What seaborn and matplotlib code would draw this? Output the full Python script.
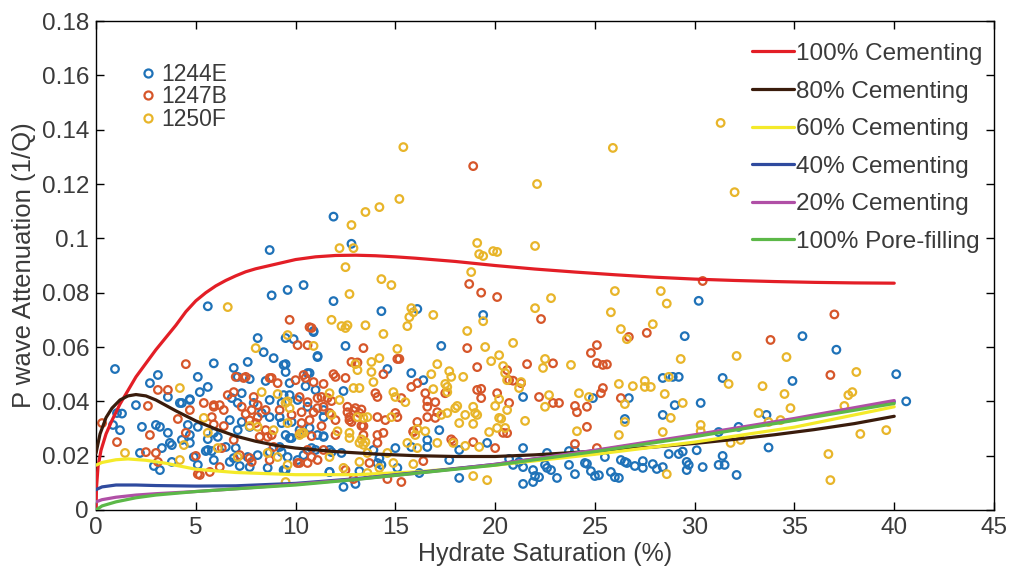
import matplotlib

matplotlib.use("Agg")
import matplotlib.pyplot as plt
import numpy as np
import pandas as pd
import seaborn as sns
from matplotlib.ticker import FuncFormatter

# hydrate saturation (%) vs P wave attenuation (1/Q)
site_1244e = [
    (30.2, 0.077), (29.5, 0.064), (35.4, 0.064), (37.1, 0.059), (40.1, 0.050), (40.6, 0.040),
    (34.9, 0.0475), (31.4, 0.0486), (30.3, 0.0394), (29.0, 0.0386), (33.6, 0.035), (32.2, 0.0306),
    (28.4, 0.035), (28.4, 0.0486), (28.9, 0.049), (29.2, 0.049), (33.7, 0.023), (30.1, 0.022),
    (28.7, 0.0206), (29.2, 0.0206), (29.4, 0.0215), (29.6, 0.0177), (29.7, 0.0166), (29.6, 0.0147),
    (30.4, 0.0158), (31.2, 0.0166), (31.5, 0.0166), (31.4, 0.0199), (32.1, 0.0129), (28.4, 0.0158),
    (31.2, 0.0287),
    (19.4, 0.0718), (21.4, 0.0416), (26.7, 0.0412), (24.9, 0.0412), (26.5, 0.0335), (19.6, 0.0247),
    (21.4, 0.0228), (20.7, 0.0188), (21.2, 0.0177), (20.9, 0.0166), (21.4, 0.0158), (21.9, 0.0147),
    (22.0, 0.0125), (22.2, 0.0121), (21.9, 0.0103), (21.4, 0.0096), (22.5, 0.0166), (22.6, 0.0155),
    (22.8, 0.0147), (23.1, 0.0118), (22.6, 0.021), (23.7, 0.0166), (24.0, 0.0132), (24.5, 0.0173),
    (24.8, 0.0143), (25.0, 0.0125), (25.2, 0.0128), (25.8, 0.014), (26.0, 0.0121), (26.2, 0.0118),
    (25.5, 0.0195), (26.3, 0.0184), (26.5, 0.0177), (26.6, 0.0173), (27.0, 0.0162), (27.4, 0.018),
    (27.9, 0.0169), (28.1, 0.0151), (27.4, 0.0155), (24.6, 0.017), (23.7, 0.0217), (24.0, 0.0217),
    (10.4, 0.0828), (11.9, 0.0769), (14.3, 0.0732), (16.1, 0.074), (10.9, 0.0655), (9.5, 0.0633),
    (9.9, 0.0629), (12.5, 0.0604), (11.1, 0.0563), (17.3, 0.0604), (9.5, 0.0537), (9.5, 0.0508),
    (10.6, 0.0504), (9.7, 0.0467), (10.5, 0.0456), (11.0, 0.0442), (12.4, 0.0438), (15.8, 0.0504),
    (16.4, 0.0478), (14.6, 0.0519), (9.4, 0.0423), (9.7, 0.0423), (10.1, 0.0405), (10.6, 0.038),
    (11.4, 0.0342), (9.3, 0.032), (9.7, 0.0265), (9.3, 0.0213), (9.5, 0.0147), (10.8, 0.0228),
    (11.4, 0.0269), (11.7, 0.014), (12.4, 0.0085), (13.0, 0.0096), (13.2, 0.0143), (14.1, 0.0173),
    (14.3, 0.0166), (14.2, 0.0191), (15.0, 0.0228), (15.1, 0.0155), (16.2, 0.0136), (15.8, 0.0232),
    (16.6, 0.0232), (17.2, 0.0294), (17.7, 0.0184), (18.2, 0.0118), (18.2, 0.0221), (16.6, 0.0258),
    (13.9, 0.0221), (11.7, 0.0221), (12.3, 0.021),
    (10.9, 0.0659), (5.9, 0.054), (8.4, 0.0581), (7.6, 0.0545), (6.9, 0.0523), (8.9, 0.0559),
    (10.7, 0.0504), (11.1, 0.0567), (5.1, 0.049), (5.6, 0.0453), (5.2, 0.0434), (7.1, 0.049),
    (7.7, 0.0482), (8.5, 0.0475), (4.3, 0.0394), (4.7, 0.0405), (6.8, 0.0412), (7.3, 0.043),
    (7.1, 0.0394), (7.9, 0.0394), (8.7, 0.0405), (9.3, 0.0394), (4.6, 0.0313), (5.1, 0.0306),
    (5.9, 0.0284), (8.3, 0.0357), (8.7, 0.0342), (9.2, 0.0342), (7.3, 0.0324), (7.1, 0.0294),
    (7.7, 0.0306), (6.7, 0.0331), (9.8, 0.0324), (10.2, 0.0294), (9.8, 0.0265), (9.5, 0.0276),
    (10.7, 0.0302), (11.4, 0.0368), (11.1, 0.0276), (11.4, 0.0272), (3.8, 0.0239), (4.7, 0.0247),
    (4.9, 0.0195), (5.6, 0.0221), (5.1, 0.0166), (5.9, 0.0184), (6.5, 0.0232), (7.0, 0.0228),
    (6.9, 0.0191), (6.7, 0.0177), (7.6, 0.0195), (8.1, 0.0202), (7.2, 0.0162), (7.7, 0.0158),
    (8.7, 0.0213), (9.2, 0.0232), (9.6, 0.0195), (9.4, 0.0147), (10.1, 0.0184), (10.4, 0.0202),
    (11.0, 0.0221), (11.8, 0.0213), (11.7, 0.014), (8.6, 0.0155), (6.1, 0.0269), (5.6, 0.0261),
    (0.95, 0.0519), (1.05, 0.0357), (1.3, 0.0355), (0.85, 0.0313), (1.2, 0.0294), (2.0, 0.0386),
    (2.3, 0.0306), (2.7, 0.0467), (3.1, 0.0497), (3.0, 0.0313), (3.2, 0.0306), (3.6, 0.0284),
    (2.2, 0.021), (2.9, 0.0162), (3.2, 0.0147), (3.3, 0.0228), (3.7, 0.0247), (3.8, 0.0177),
    (3.6, 0.0416), (4.2, 0.0394), (4.7, 0.0408), (4.3, 0.0258), (4.7, 0.0276), (5.5, 0.0217),
    (5.8, 0.0217), (8.1, 0.0633), (9.4, 0.0534),
    (8.7, 0.0957), (11.9, 0.108), (12.8, 0.098), (9.6, 0.081), (8.8, 0.079), (5.6, 0.075),
]

site_1247b = [
    (37.0, 0.072), (33.8, 0.0626), (36.8, 0.0497), (30.4, 0.0843),
    (19.3, 0.080), (20.1, 0.0784), (22.3, 0.0703), (27.6, 0.0652), (26.7, 0.0637), (25.1, 0.0607),
    (24.8, 0.0578), (25.1, 0.0541), (25.4, 0.0534), (25.6, 0.0536), (21.6, 0.0537), (22.9, 0.054),
    (19.1, 0.0526), (20.6, 0.0515), (20.7, 0.0478), (20.9, 0.0476), (21.3, 0.0467), (19.1, 0.0442),
    (19.3, 0.0446), (20.1, 0.043), (19.3, 0.0412), (25.4, 0.0449), (25.3, 0.043), (26.3, 0.0412),
    (22.2, 0.0416), (22.9, 0.0394), (23.2, 0.0394), (20.7, 0.0394), (24.0, 0.0383), (24.1, 0.036),
    (24.6, 0.038), (24.6, 0.0306), (20.4, 0.0284), (20.6, 0.0283), (24.0, 0.0243), (25.1, 0.0228),
    (20.0, 0.0228), (18.9, 0.025),
    (18.7, 0.0832), (9.7, 0.070), (10.8, 0.067), (10.1, 0.0607), (10.6, 0.0607), (13.4, 0.0596),
    (15.1, 0.0556), (15.2, 0.0556), (18.6, 0.0596), (12.8, 0.0545), (13.1, 0.0543), (11.9, 0.050),
    (12.0, 0.049), (12.5, 0.0486), (10.0, 0.0478), (10.5, 0.0486), (10.9, 0.0471), (11.4, 0.0464),
    (14.4, 0.050), (15.8, 0.0453), (16.1, 0.0467), (16.5, 0.043), (17.5, 0.043), (14.0, 0.043),
    (14.1, 0.0416), (15.3, 0.0412), (16.6, 0.0401), (17.0, 0.0397), (16.6, 0.038), (17.1, 0.036),
    (17.0, 0.0339), (16.6, 0.0342), (16.1, 0.0324), (15.9, 0.0287), (10.2, 0.0416), (10.6, 0.0397),
    (10.9, 0.036), (11.3, 0.0416), (11.4, 0.038), (11.8, 0.0401), (12.6, 0.036), (12.7, 0.0342),
    (12.8, 0.0324), (13.2, 0.0357), (13.4, 0.0309), (14.1, 0.0342), (14.5, 0.0331), (15.0, 0.0357),
    (15.1, 0.0342), (10.3, 0.032), (10.2, 0.028), (10.8, 0.0272), (11.3, 0.0309), (12.0, 0.0276),
    (11.4, 0.0221), (10.6, 0.0221), (11.1, 0.0184), (14.1, 0.0276), (14.1, 0.0247), (13.4, 0.0276),
    (14.4, 0.0284), (15.9, 0.029), (16.4, 0.018), (17.8, 0.026), (17.9, 0.0252), (14.6, 0.0114),
    (15.3, 0.0103), (12.5, 0.0147), (12.9, 0.0114), (13.7, 0.0173), (10.2, 0.0173),
    (12.9, 0.0365), (13.0, 0.0375), (13.3, 0.037), (12.6, 0.038), (12.7, 0.033), (13.3, 0.031),
    (4.5, 0.0537), (10.7, 0.0673), (7.5, 0.049), (6.9, 0.0434), (6.6, 0.0423), (5.4, 0.0394),
    (5.9, 0.038), (6.2, 0.0386), (6.4, 0.0368), (5.8, 0.0342), (4.1, 0.0335), (4.7, 0.0368),
    (4.5, 0.0284), (6.4, 0.0309), (5.9, 0.0315), (7.3, 0.038), (7.8, 0.0368), (7.5, 0.0353),
    (8.1, 0.0342), (8.0, 0.032), (7.7, 0.033), (8.5, 0.0294), (8.6, 0.0269), (8.8, 0.0276),
    (8.2, 0.0269), (7.9, 0.0416), (8.1, 0.0386), (8.5, 0.0368), (8.8, 0.0486), (9.1, 0.0467),
    (10.4, 0.0497), (9.2, 0.0368), (9.8, 0.035), (10.3, 0.036), (10.7, 0.0331), (11.1, 0.0375),
    (11.1, 0.0412), (11.6, 0.0412), (11.7, 0.0357), (12.0, 0.0331), (10.8, 0.0195), (10.6, 0.0173),
    (10.1, 0.0173), (7.8, 0.0177), (7.7, 0.0191), (7.2, 0.0202), (6.2, 0.0158), (5.2, 0.0129),
    (5.7, 0.014), (8.7, 0.0184), (5.0, 0.0199), (8.9, 0.0232), (6.9, 0.0258), (6.3, 0.0228),
    (0.3, 0.032), (1.05, 0.025), (2.6, 0.0383), (2.7, 0.0276), (2.5, 0.0213), (3.0, 0.021),
    (3.1, 0.0177), (3.6, 0.0442), (3.1, 0.0442), (5.1, 0.0132), (5.9, 0.0386), (7.0, 0.049),
    (7.4, 0.0486), (8.7, 0.0486),
    (18.9, 0.1266),
]

site_1250f = [
    (31.3, 0.1425), (25.9, 0.1333), (22.1, 0.120), (32.0, 0.117), (15.4, 0.1336), (15.2, 0.1145),
    (14.2, 0.1115), (13.5, 0.1097), (12.8, 0.1049), (12.2, 0.0964), (12.9, 0.0964), (12.5, 0.0894),
    (14.3, 0.085), (14.8, 0.0828), (19.1, 0.0983), (19.2, 0.0942), (19.4, 0.0935), (18.8, 0.0876),
    (19.9, 0.0953), (20.1, 0.095), (22.0, 0.0972), (6.6, 0.0747), (8.0, 0.0596), (9.6, 0.0644),
    (28.3, 0.0806), (28.6, 0.076), (29.3, 0.0556), (32.1, 0.0567), (34.6, 0.0563), (38.1, 0.0508),
    (28.7, 0.049), (31.7, 0.0464), (33.4, 0.0456), (34.5, 0.0427), (37.9, 0.0434), (37.7, 0.0423),
    (37.5, 0.0383), (28.5, 0.0427), (29.4, 0.0394), (34.8, 0.0375), (28.8, 0.0339), (33.2, 0.0357),
    (33.7, 0.0324), (34.3, 0.0331), (30.3, 0.0313), (30.3, 0.029), (28.4, 0.0287), (38.3, 0.028),
    (39.6, 0.0294), (32.3, 0.0258), (31.8, 0.0247), (36.7, 0.0206), (36.8, 0.011), (28.6, 0.0132),
    (26.0, 0.0806), (22.8, 0.078), (22.0, 0.0743), (25.8, 0.0728), (19.4, 0.0695), (27.9, 0.0684),
    (26.3, 0.0666), (26.6, 0.0629), (20.9, 0.0615), (19.5, 0.060), (20.2, 0.057), (19.8, 0.0548),
    (22.5, 0.0556), (22.4, 0.0523), (23.8, 0.0534), (20.4, 0.053), (20.5, 0.0504), (20.6, 0.0478),
    (21.2, 0.0449), (21.3, 0.0471), (27.5, 0.0475), (27.5, 0.0453), (27.8, 0.0453), (26.9, 0.0456),
    (26.2, 0.0464), (24.2, 0.043), (24.7, 0.0416), (22.7, 0.0423), (22.5, 0.038), (20.2, 0.0408),
    (20.0, 0.0383), (20.6, 0.0368), (26.5, 0.039), (26.5, 0.0324), (21.5, 0.0328), (20.2, 0.0339),
    (20.3, 0.0336), (20.1, 0.0302), (20.5, 0.0302), (19.7, 0.0287), (24.1, 0.029), (26.2, 0.0276),
    (19.2, 0.0232), (19.6, 0.011), (18.9, 0.0125), (19.0, 0.0357), (19.1, 0.035),
    (12.7, 0.0795), (15.8, 0.0743), (15.9, 0.0728), (15.7, 0.071), (16.9, 0.0718), (11.8, 0.070),
    (12.3, 0.0677), (12.5, 0.067), (12.6, 0.068), (13.5, 0.068), (15.6, 0.0677), (14.4, 0.0648),
    (18.6, 0.0659), (10.9, 0.0604), (15.1, 0.0593), (13.0, 0.0537), (13.1, 0.0515), (13.8, 0.0545),
    (14.2, 0.0559), (13.9, 0.0471), (13.8, 0.0508), (12.9, 0.0449), (13.2, 0.0449), (14.9, 0.0434),
    (15.0, 0.0416), (15.5, 0.0397), (17.1, 0.0537), (16.8, 0.050), (17.7, 0.0511), (17.8, 0.049),
    (18.4, 0.049), (16.9, 0.0445), (17.5, 0.0464), (17.6, 0.0453), (17.6, 0.0434), (18.0, 0.0375),
    (18.1, 0.0383), (18.9, 0.038), (18.5, 0.035), (18.9, 0.0317), (18.2, 0.032), (17.6, 0.0357),
    (17.3, 0.035), (16.1, 0.0298), (16.5, 0.029), (17.1, 0.0247), (17.9, 0.0247), (18.5, 0.0236),
    (15.6, 0.0247), (14.9, 0.0173), (14.2, 0.0155), (13.6, 0.0136), (13.2, 0.0247), (13.4, 0.024),
    (13.3, 0.026), (13.5, 0.025), (13.6, 0.021), (13.2, 0.0177), (12.7, 0.0284), (12.7, 0.0265),
    (12.1, 0.029), (11.7, 0.0195), (12.4, 0.0155), (13.1, 0.0342), (13.6, 0.0342), (14.8, 0.0342),
    (13.4, 0.0339), (11.8, 0.035), (12.2, 0.0405), (11.7, 0.043), (9.7, 0.0375), (9.5, 0.0394),
    (10.4, 0.0284), (10.2, 0.0276), (9.6, 0.0166), (9.6, 0.032), (14.6, 0.021), (15.9, 0.0169),
    (16.1, 0.0228), (16.0, 0.0276),
    (4.2, 0.0449), (8.3, 0.0434), (9.1, 0.0427), (9.6, 0.040), (5.4, 0.0339), (7.7, 0.0309),
    (8.1, 0.0306), (8.9, 0.0294), (4.4, 0.0239), (6.1, 0.0228), (7.1, 0.0195), (8.6, 0.021),
    (9.1, 0.0195), (4.2, 0.0184), (10.3, 0.0284), (9.5, 0.0103), (1.45, 0.021), (5.6, 0.0284),
]

# rock physics model curves
sat_red = [0, 0.02, 0.1, 0.25, 0.5, 0.8, 1.2, 1.6, 2, 2.5, 3, 3.5, 4, 4.5, 5, 5.5, 6, 6.5, 7,
           7.5, 8, 9, 10, 11, 12, 13, 14, 15, 16, 18, 20, 22, 24, 26, 28, 30, 32, 34, 36, 38, 40]
att_red = [0, 0.008, 0.016, 0.022, 0.028, 0.033, 0.039, 0.044, 0.049, 0.054, 0.059, 0.0635,
           0.068, 0.073, 0.077, 0.080, 0.0825, 0.0845, 0.0862, 0.0877, 0.0888, 0.0905, 0.0922,
           0.0932, 0.0937, 0.0938, 0.0936, 0.0932, 0.0927, 0.0915, 0.090, 0.0887, 0.0876,
           0.0866, 0.0857, 0.085, 0.0845, 0.0841, 0.0838, 0.0836, 0.0835]

sat_brown = [0, 0.2, 0.5, 0.8, 1.2, 1.6, 2, 2.5, 3, 3.5, 4, 5, 6, 7, 8, 9, 10, 12, 14, 16, 18,
             20, 22, 24, 26, 28, 30, 32, 34, 36, 38, 40]
att_brown = [0.021, 0.028, 0.034, 0.0375, 0.0405, 0.042, 0.0425, 0.042, 0.0405, 0.0385, 0.0365,
             0.0328, 0.0298, 0.0272, 0.0253, 0.0238, 0.0228, 0.0215, 0.0206, 0.020, 0.0197,
             0.0197, 0.0203, 0.0212, 0.0222, 0.0232, 0.0245, 0.026, 0.0277, 0.0296, 0.0318, 0.0345]

sat_yellow = [0, 0.3, 1, 1.6, 2.5, 3.5, 5, 7, 10, 13, 16, 20, 25, 30, 35, 40]
att_yellow = [0.0165, 0.0175, 0.0185, 0.0188, 0.0183, 0.0172, 0.015, 0.0138, 0.013, 0.013,
              0.014, 0.0165, 0.0205, 0.025, 0.0305, 0.038]

sat_low = [0, 0.3, 1, 2, 3, 5, 7, 10, 13, 16, 20, 25, 30, 35, 40]
att_blue = [0.0075, 0.0085, 0.0092, 0.0092, 0.009, 0.0088, 0.0089, 0.0098, 0.0115, 0.0137,
            0.0168, 0.0218, 0.0273, 0.0332, 0.0398]
att_purple = [0.003, 0.0038, 0.0047, 0.0055, 0.006, 0.0068, 0.0078, 0.0095, 0.0113, 0.0135,
              0.0168, 0.022, 0.0277, 0.0337, 0.0403]
att_green = [0, 0.0015, 0.003, 0.0045, 0.0055, 0.0068, 0.0078, 0.0092, 0.0112, 0.0135, 0.0165,
             0.0215, 0.027, 0.033, 0.0392]

site_names = ["1244E", "1247B", "1250F"]
site_colors = ["#1f72b8", "#d6562a", "#e8b52a"]

models = [
    ("100% Cementing", sat_red, att_red, "#e31e26"),
    ("80% Cementing", sat_brown, att_brown, "#3a1c0c"),
    ("60% Cementing", sat_yellow, att_yellow, "#f4ea2a"),
    ("40% Cementing", sat_low, att_blue, "#2f4a9e"),
    ("20% Cementing", sat_low, att_purple, "#b04fa6"),
    ("100% Pore-filling", sat_low, att_green, "#5cb848"),
]

sns.set_theme(style="ticks")
plt.rcParams["font.family"] = ["Liberation Sans", "DejaVu Sans"]
text_color = "#3a3a3a"

fig = plt.figure(figsize=(10.11, 5.69), dpi=100)
ax = fig.add_axes([0.095, 0.1037, 0.8882, 0.8593])

scatter_handles = []
for name, pts, color in zip(site_names, [site_1244e, site_1247b, site_1250f], site_colors):
    df = pd.DataFrame(pts, columns=["sat", "att"])
    sns.scatterplot(data=df, x="sat", y="att", ax=ax, marker="o", s=30,
                    facecolors="none", edgecolor=color, linewidth=1.6, legend=False, zorder=2)
    scatter_handles.append(
        plt.Line2D([], [], marker="o", linestyle="none", markerfacecolor="none",
                   markeredgecolor=color, markeredgewidth=1.6, markersize=5.8, label=name)
    )

line_handles = []
for label, sat, att, color in models:
    df = pd.DataFrame({"sat": sat, "att": att})
    sns.lineplot(data=df, x="sat", y="att", ax=ax, color=color, linewidth=2.3,
                 estimator=None, sort=False, zorder=3)
    line_handles.append(plt.Line2D([], [], color=color, linewidth=2.3, label=label))

ax.set_xlim(0, 45)
ax.set_ylim(0, 0.18)
ax.set_xticks(np.arange(0, 46, 5))
ax.set_yticks(np.arange(0, 0.181, 0.02))
ax.yaxis.set_major_formatter(FuncFormatter(lambda v, p: f"{v:.2f}".rstrip("0").rstrip(".") if v else "0"))
ax.tick_params(direction="in", top=True, right=True, length=6, width=1, labelsize=17.5,
               labelcolor=text_color, color="black", pad=5)
for sp in ax.spines.values():
    sp.set_linewidth(1.0)
    sp.set_color("black")

ax.set_xlabel("Hydrate Saturation (%)", fontsize=18, color=text_color, labelpad=2)
ax.set_ylabel("P wave Attenuation (1/Q)", fontsize=18.5, color=text_color, labelpad=4)

leg1 = ax.legend(handles=scatter_handles, loc="upper left", bbox_to_anchor=(0.022, 0.957),
                 frameon=False, fontsize=16.5, handletextpad=0.1, labelspacing=-0.02,
                 handlelength=1.0, labelcolor=text_color)
ax.add_artist(leg1)
ax.legend(handles=line_handles, loc="upper right", bbox_to_anchor=(1.011, 1.0),
          frameon=False, fontsize=17.5, handlelength=1.75, handletextpad=0.05,
          labelspacing=0.64, labelcolor=text_color)

fig.savefig("out.png", dpi=100)
plt.close(fig)
